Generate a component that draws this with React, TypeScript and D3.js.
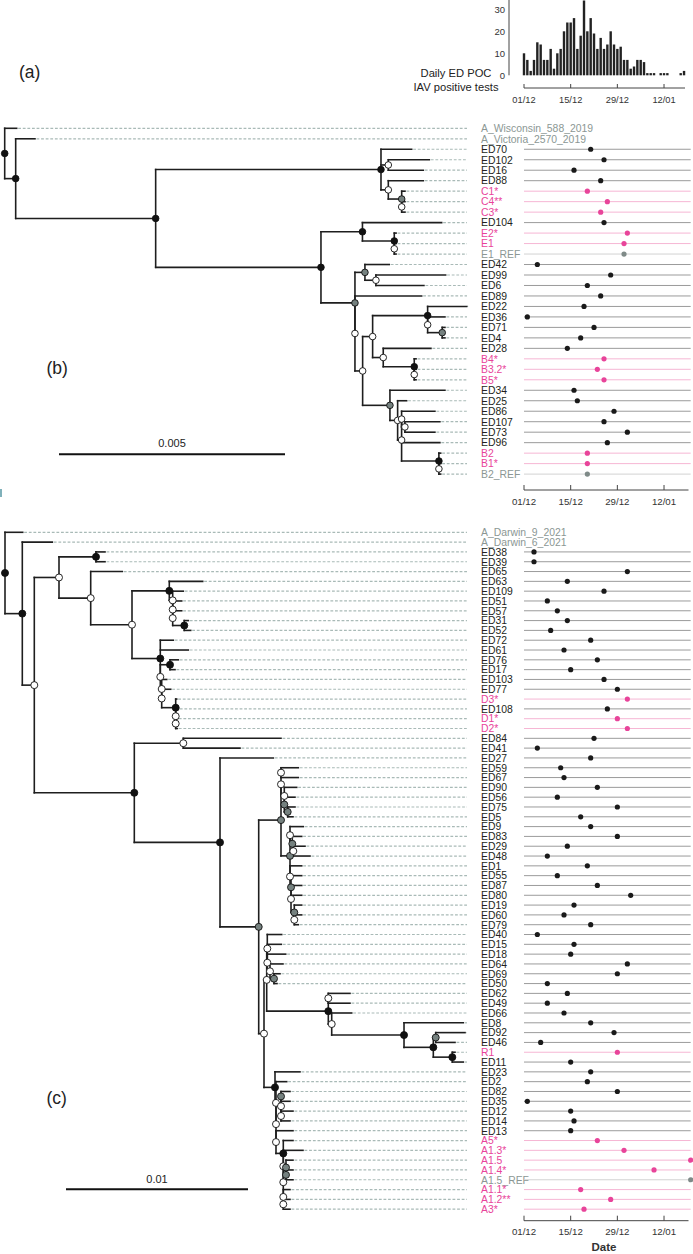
import React from 'react';
import * as d3 from 'd3';

// ---------- DATA ----------
// (a) daily ED POC IAV positive tests, one value per day starting 01/12/2021
const HIST_COUNTS = [10, 7, 2, 7, 15, 14, 7, 7, 12, 3, 10, 12, 20, 24, 24, 26, 12, 18, 34, 20, 26, 19, 12, 17, 12, 14, 20, 14, 12, 13, 7, 7, 3, 4, 7, 7, 6, 1, 1, 1, 0, 1, 1, 1, 0, 0, 0, 1, 2];
const HIST_START = '2021-12-01';
const HIST_Y_TICKS = [0, 10, 20, 30];
const DATE_TICKS = ['2021-12-01', '2021-12-15', '2021-12-29', '2022-01-12'];
const DATE_DOMAIN = ['2021-12-01', '2022-01-20'];

// (b) tree (Newick, branch lengths in substitutions/site; node labels = support class b/g/w)
const NEWICK_B =
  '(A_Wisconsin_588_2019:0.000265,(A_Victoria_2570_2019:0.000427,((ED70:0.000679,(ED102:0.000907,ED16:0.000774)w:0.000162,(ED88:0.000774,(C1*:0.000073,(C4**:0.000073,C3*:0.000073)w:0)g:0.000296)w:0.000162)b:0.004985,((ED104:0.001752,(E2*:0.00004,(E1:0.00004,E1_REF:0.00004)w:0)b:0.000704)b:0.000918,((ED42:0.000538,(ED99:0.001542,ED6:0.001062)w:0.000243)g:0.000221,(ED89:0.001476,(((ED22:0.000863,(ED36:0.000383,(ED71:0.00006,ED4:0.00006)g:0.000323)w:0)b:0.001217,(ED28:0.001055,(B4*:0.00004,(B3.2*:0.00004,B5*:0.00004)w:0)b:0.000686)w:0.000235)w:0.000221,(ED34:0.001217,(ED25:0.000199,((ED86:0.000737,(ED107:0.000774,ED73:0.000664)w:0.000073)w:0,ED96:0.000847,(B2:0.00004,(B1*:0.00004,B2_REF:0.00004)w:0)b:0.000825)w:0.000088)w:0.00017)g:0.000604)w:0.00017)w:0)g:0.000752)b:0.003657)b:0.003097)b:0.000243)b;';

const B_TIPS = ['ED70', 'ED102', 'ED16', 'ED88', 'C1*', 'C4**', 'C3*', 'ED104', 'E2*', 'E1', 'E1_REF', 'ED42', 'ED99', 'ED6', 'ED89', 'ED22', 'ED36', 'ED71', 'ED4', 'ED28', 'B4*', 'B3.2*', 'B5*', 'ED34', 'ED25', 'ED86', 'ED107', 'ED73', 'ED96', 'B2', 'B1*', 'B2_REF'];
const B_DATES = ['2021-12-21', '2021-12-25', '2021-12-16', '2021-12-24', '2021-12-20', '2021-12-26', '2021-12-24', '2021-12-25', '2022-01-01', '2021-12-31', '2021-12-31', '2021-12-05', '2021-12-27', '2021-12-20', '2021-12-24', '2021-12-19', '2021-12-02', '2021-12-22', '2021-12-18', '2021-12-14', '2021-12-25', '2021-12-23', '2021-12-25', '2021-12-16', '2021-12-17', '2021-12-28', '2021-12-25', '2022-01-01', '2021-12-26', '2021-12-20', '2021-12-20', '2021-12-20'];

// (c) tree, written in sub-clades
const C_N5 = '(ED38:0.000495,ED39:0.000495)b:0.002033';
const C_N8 = '(ED63:0.001835,(ED109:0.000582,(ED51:0.000495,(ED57:0.000495,(ED31:0.00022,ED52:0.000352)b:0.000637)w:0)w:0)w:0.000187)b:0.002049';
const C_N9 = '(ED72:0.000714,ED61:0.001538,((ED76:0.000456,ED17:0.000275)b:0.000533,(ED103:0.000275,(ED77:0.000495,(D3*:0.000055,(ED108:0.000143,(D1*:0.000088,D2*:0.000088)w:0)w:0)b:0.000769)w:0)w:0.000077)w:0)b:0.001555';
const C_N10 = '(ED84:0.005368,ED41:0.003115)w:0.002692';
const C_N13 = '(((ED59:0.000951,ED67:0.000951)w:0,(ED90:0.000681,(ED56:0.000588,(ED75:0.000401,ED5:0.000291)g:0.000187)g:0)w:0.000181)w:0,((ED9:0.000731,(ED83:0.000516,(ED29:0.000643,ED48:0.000918)w:0.000055)g:0.000126)w:0,(ED1:0.000643,(ED55:0.000588,(ED87:0.000588,ED80:0.000588,(ED19:0.000407,(ED60:0.000407,ED79:0.00022)w:0)g:0.000181)w:0)g:0.000055)w:0)g:0.000495)g:0.001225';
const C_N15 = '((ED40:0.000791,ED15:0.00077,(ED18:0.001011,(ED64:0.000714,(ED69:0.00033,ED50:0.000165)g:0.00022)w:0.000148)w:0)w:0.000033,((ED62:0.001192,ED49:0.001192)w:0,(ED66:0.001099,(ED8:0.003258,((ED92:0.00161,ED46:0.00106)g:0.000132,(R1:0.000148,ED11:0.000604)b:0.001044)b:0.00161)b:0.003973)w:0.000187)b:0.003385)w:0.000148';
const C_N16 = '(ED23:0.001374,(ED2:0.000588,(((ED82:0.000495,ED35:0.000495)g:0,(ED12:0.000659,ED14:0.000495)w:0)w:0.000275,(ED13:0.000934,(A5*:0.000533,(A1.3*:0.001082,((A1.5:0.000385,(A1.4*:0.000385,A1.5_REF:0.000385)g:0)g:0.000148,(A1.1*:0.000368,(A1.2**:0.000368,A3*:0.000368)w:0)w:0)w:0)w:0)b:0.000401)w:0)w:0)w:0.000055)b:0.000604';
const NEWICK_C = `(A_Darwin_9_2021:0.000973,(A_Darwin_6_2021:0.001648,((${C_N5},(ED65:0.001736,(${C_N8},${C_N9})w:0.002269)w:0.001742)w:0.001357,(${C_N10},(ED27:0.002929,(${C_N13},(${C_N15},${C_N16})w:0.000291)g:0.002126)b:0.004709)b:0.005495)w:0.000659)b:0.000951)b;`;

const C_TIPS = ['ED38', 'ED39', 'ED65', 'ED63', 'ED109', 'ED51', 'ED57', 'ED31', 'ED52', 'ED72', 'ED61', 'ED76', 'ED17', 'ED103', 'ED77', 'D3*', 'ED108', 'D1*', 'D2*', 'ED84', 'ED41', 'ED27', 'ED59', 'ED67', 'ED90', 'ED56', 'ED75', 'ED5', 'ED9', 'ED83', 'ED29', 'ED48', 'ED1', 'ED55', 'ED87', 'ED80', 'ED19', 'ED60', 'ED79', 'ED40', 'ED15', 'ED18', 'ED64', 'ED69', 'ED50', 'ED62', 'ED49', 'ED66', 'ED8', 'ED92', 'ED46', 'R1', 'ED11', 'ED23', 'ED2', 'ED82', 'ED35', 'ED12', 'ED14', 'ED13', 'A5*', 'A1.3*', 'A1.5', 'A1.4*', 'A1.5_REF', 'A1.1*', 'A1.2**', 'A3*'];
const C_DATES = ['2021-12-04', '2021-12-04', '2022-01-01', '2021-12-14', '2021-12-25', '2021-12-08', '2021-12-11', '2021-12-14', '2021-12-09', '2021-12-21', '2021-12-13', '2021-12-23', '2021-12-15', '2021-12-25', '2021-12-29', '2022-01-01', '2021-12-26', '2021-12-29', '2022-01-01', '2021-12-22', '2021-12-05', '2021-12-21', '2021-12-12', '2021-12-13', '2021-12-23', '2021-12-11', '2021-12-29', '2021-12-18', '2021-12-21', '2021-12-29', '2021-12-14', '2021-12-08', '2021-12-20', '2021-12-11', '2021-12-23', '2022-01-02', '2021-12-16', '2021-12-13', '2021-12-21', '2021-12-05', '2021-12-16', '2021-12-15', '2022-01-01', '2021-12-29', '2021-12-08', '2021-12-14', '2021-12-08', '2021-12-13', '2021-12-21', '2021-12-28', '2021-12-06', '2021-12-29', '2021-12-15', '2021-12-21', '2021-12-20', '2021-12-29', '2021-12-02', '2021-12-15', '2021-12-16', '2021-12-15', '2021-12-23', '2021-12-31', '2022-01-20', '2022-01-09', '2022-01-20', '2021-12-18', '2021-12-27', '2021-12-19'];

// ---------- STYLE ----------
const FONT = 'Liberation Sans, Arial, Helvetica, sans-serif';
const COL_BLACK = '#231f20';
const COL_PINK = '#e8449a';
const COL_GREY = '#8b9794';
const COL_DASH = '#a9bab7';
const NODE_FILL: Record<string, string> = { b: '#111111', g: '#75817f', w: '#ffffff' };

const parseDate = d3.timeParse('%Y-%m-%d');

function parseNewick(str: string) {
  const s = str.replace(/\s+/g, '');
  let i = 0;
  const parse = (): any => {
    const node: any = { children: [] };
    if (s[i] === '(') {
      i++;
      node.children.push(parse());
      while (s[i] === ',') {
        i++;
        node.children.push(parse());
      }
      i++;
    }
    let name = '';
    while (i < s.length && !',():;'.includes(s[i])) name += s[i++];
    node.name = name;
    let len = '';
    if (s[i] === ':') {
      i++;
      while (i < s.length && !',();'.includes(s[i])) len += s[i++];
    }
    node.length = len ? +len : 0;
    return node;
  };
  return parse();
}

function buildTree(newick: string, xScale: any, yTop: number, yBottom: number) {
  const root: any = d3.hierarchy(parseNewick(newick), (d: any) => (d.children.length ? d.children : null));
  root.eachBefore((n: any) => {
    n.dist = n.parent ? n.parent.dist + n.data.length : 0;
  });
  const leaves = root.leaves();
  const yScale = d3.scalePoint().domain(leaves.map((l: any) => l.data.name)).range([yTop, yBottom]);
  root.eachAfter((n: any) => {
    if (n.children) n.y = (n.children[0].y + n.children[n.children.length - 1].y) / 2;
    else n.y = yScale(n.data.name);
    n.px = xScale(n.dist);
  });
  return { root, leaves };
}

function tipColor(name: string) {
  if (name.startsWith('A_') || name.includes('_REF')) return COL_GREY;
  if (name.startsWith('ED')) return COL_BLACK;
  return COL_PINK;
}
function rowColor(name: string) {
  if (name.includes('_REF')) return '#d2d2d2';
  if (name.startsWith('ED')) return '#9b9b9b';
  return '#f6b6d4';
}
function dotColor(name: string) {
  if (name.includes('_REF')) return '#7f8a88';
  if (name.startsWith('ED')) return '#1a1a1a';
  return COL_PINK;
}

const dateScale = d3
  .scaleTime()
  .domain(DATE_DOMAIN.map((d) => parseDate(d) as Date))
  .range([524, 690.7]);

function DateAxis({ y, showTitle }: { y: number; showTitle?: boolean }) {
  return (
    <g>
      <line x1={524} x2={688.5} y1={y} y2={y} stroke="#444" strokeWidth={1} />
      {DATE_TICKS.map((t) => {
        const x = dateScale(parseDate(t) as Date);
        return (
          <g key={t}>
            <line x1={x} x2={x} y1={y} y2={y - 5} stroke="#444" strokeWidth={1} />
            <text x={x} y={y + 14.5} textAnchor="middle" fontSize={9.7} fill="#333" fontFamily={FONT}>
              {d3.timeFormat('%d/%m')(parseDate(t) as Date)}
            </text>
          </g>
        );
      })}
      {showTitle && (
        <text x={604} y={y + 30} textAnchor="middle" fontSize={11.5} fontWeight="bold" fill="#333" fontFamily={FONT}>
          Date
        </text>
      )}
    </g>
  );
}

function TreePanel({ newick, xScale, yTop, yBottom, tips, dates, nodeR }: any) {
  const { root, leaves } = buildTree(newick, xScale, yTop, yBottom);
  const dateMap = new Map<string, string>();
  tips.forEach((t: string, i: number) => dateMap.set(t, dates[i]));
  const branchEls: any[] = [];
  const nodeEls: any[] = [];
  let k = 0;
  root.each((n: any) => {
    if (n.children) {
      const c0 = n.children[0];
      const c1 = n.children[n.children.length - 1];
      branchEls.push(<line key={'v' + k++} x1={n.px} x2={n.px} y1={c0.y} y2={c1.y} />);
      n.children.forEach((c: any) => {
        branchEls.push(<line key={'h' + k++} x1={n.px} x2={c.px} y1={c.y} y2={c.y} />);
      });
      if (NODE_FILL[n.data.name]) {
        nodeEls.push(
          <circle key={'n' + k++} cx={n.px} cy={n.y} r={nodeR} fill={NODE_FILL[n.data.name]} stroke="#111" strokeWidth={0.9} />
        );
      }
    }
  });
  return (
    <g>
      {leaves.map((l: any) => (
        <line key={'d' + l.data.name} x1={l.px + 1.5} x2={467} y1={l.y} y2={l.y} stroke={COL_DASH} strokeWidth={1.2} strokeDasharray="2.8,1.8" />
      ))}
      <g stroke="#1e1e1e" strokeWidth={1.6} strokeLinecap="square">
        {branchEls}
      </g>
      {nodeEls}
      {leaves.map((l: any) => {
        const name = l.data.name;
        const date = dateMap.get(name);
        return (
          <g key={'t' + name}>
            <text x={481} y={l.y + 3.8} fontSize={10.4} fill={tipColor(name)} fontFamily={FONT}>
              {name}
            </text>
            {date && <line x1={524} x2={690.7} y1={l.y} y2={l.y} stroke={rowColor(name)} strokeWidth={1} />}
            {date && <circle cx={dateScale(parseDate(date) as Date)} cy={l.y} r={2.6} fill={dotColor(name)} />}
          </g>
        );
      })}
    </g>
  );
}

function Histogram() {
  const y = d3.scaleLinear().domain([0, 34]).range([75.3, 0.5]);
  const start = parseDate(HIST_START) as Date;
  return (
    <g>
      <line x1={509} x2={509} y1={0} y2={75.3} stroke="#444" strokeWidth={1} />
      {HIST_Y_TICKS.map((t) => (
        <text key={t} x={505} y={y(t) + 3.5} textAnchor="end" fontSize={9.5} fill="#333" fontFamily={FONT}>
          {t}
        </text>
      ))}
      {HIST_COUNTS.map((c, i) => {
        if (!c) return null;
        const x = dateScale(d3.timeDay.offset(start, i));
        return <rect key={i} x={x - 1.2} y={y(c)} width={2.4} height={y(0) - y(c)} fill="#222" />;
      })}
      <line x1={524} x2={685} y1={88} y2={88} stroke="#444" strokeWidth={1} />
      {DATE_TICKS.map((t) => {
        const x = dateScale(parseDate(t) as Date);
        return (
          <g key={t}>
            <line x1={x} x2={x} y1={88} y2={84} stroke="#444" strokeWidth={1} />
            <text x={x} y={102.5} textAnchor="middle" fontSize={9.3} fill="#333" fontFamily={FONT}>
              {d3.timeFormat('%d/%m')(parseDate(t) as Date)}
            </text>
          </g>
        );
      })}
    </g>
  );
}

export default function App() {
  const xB = d3.scaleLinear().domain([0, 0.005]).range([4.7, 230.7]);
  const xC = d3.scaleLinear().domain([0, 0.01]).range([5, 187]);
  return (
    <svg
      width={693}
      height={1254}
      viewBox="0 0 693 1254"
      style={{ position: 'absolute', left: 0, top: 0, background: '#fff' }}
      fontFamily={FONT}
    >
      <rect width={693} height={1254} fill="#fff" />
      {/* (a) */}
      <text x={19} y={78} fontSize={17.5} fill="#222" fontFamily={FONT}>(a)</text>
      <text x={456} y={77} textAnchor="middle" fontSize={11.2} fill="#222" fontFamily={FONT}>Daily ED POC</text>
      <text x={456} y={91} textAnchor="middle" fontSize={11.2} fill="#222" fontFamily={FONT}>IAV positive tests</text>
      <Histogram />

      {/* (b) */}
      <TreePanel newick={NEWICK_B} xScale={xB} yTop={128.3} yBottom={474.1} tips={B_TIPS} dates={B_DATES} nodeR={3.3} />
      <DateAxis y={490} />
      <text x={46.5} y={374} fontSize={17.5} fill="#222" fontFamily={FONT}>(b)</text>
      <line x1={59} x2={59 + (xB(0.005) - xB(0))} y1={454.3} y2={454.3} stroke="#111" strokeWidth={2} />
      <text x={172} y={447} textAnchor="middle" fontSize={11} fill="#222" fontFamily={FONT}>0.005</text>
      <line x1={1} x2={1} y1={489} y2={497} stroke="#2b7d8c" strokeWidth={1.2} />

      {/* (c) */}
      <TreePanel newick={NEWICK_C} xScale={xC} yTop={532.3} yBottom={1209.2} tips={C_TIPS} dates={C_DATES} nodeR={3.5} />
      <DateAxis y={1220.7} showTitle />
      <text x={46.5} y={1104} fontSize={17.5} fill="#222" fontFamily={FONT}>(c)</text>
      <line x1={66} x2={66 + (xC(0.01) - xC(0))} y1={1189.3} y2={1189.3} stroke="#111" strokeWidth={2} />
      <text x={157} y={1183} textAnchor="middle" fontSize={11} fill="#222" fontFamily={FONT}>0.01</text>
    </svg>
  );
}
